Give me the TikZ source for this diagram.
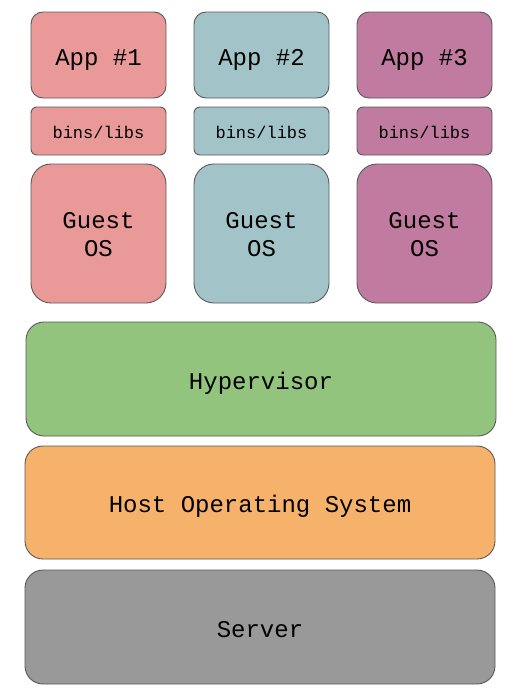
\documentclass[tikz,border=0pt]{standalone}
\usepackage{fontspec}
\setmonofont{Liberation Mono}
\definecolor{cred}{HTML}{EA9999}
\definecolor{cteal}{HTML}{A2C4C9}
\definecolor{cpurp}{HTML}{C27BA0}
\definecolor{cgreen}{HTML}{93C47D}
\definecolor{corange}{HTML}{F6B26B}
\definecolor{cgray}{HTML}{999999}
\definecolor{cborder}{HTML}{595959}
\tikzset{
  blk/.style={draw=cborder, line width=0.9pt, inner sep=0pt, align=center, text=black},
  appbox/.style={blk, rounded corners=12pt, minimum width=135pt, minimum height=86pt, text height=20pt, text depth=0pt, font=\ttfamily\fontsize{24}{28}\selectfont},
  libbox/.style={blk, rounded corners=6pt, minimum width=135pt, minimum height=48pt, text height=15.4pt, text depth=0pt, font=\ttfamily\fontsize{17}{20}\selectfont},
  osbox/.style={blk, rounded corners=20pt, minimum width=135pt, minimum height=139pt, text height=46.4pt, text depth=0pt, font=\ttfamily\fontsize{24}{28.4}\selectfont},
  layer/.style={blk, rounded corners=18pt, minimum width=470pt, minimum height=114pt, text height=20pt, text depth=0pt, font=\ttfamily\fontsize{24}{28}\selectfont},
}
\begin{document}
\begin{tikzpicture}[x=1pt,y=-1pt]
\useasboundingbox (0,0) rectangle (522,696);
\node[appbox, fill=cred]  (app1) at (98.5,55) {App \#1};
\node[appbox, fill=cteal] (app2) at (261.5,55) {App \#2};
\node[appbox, fill=cpurp] (app3) at (424.5,55) {App \#3};
\node[libbox, fill=cred]  (lib1) at (98.5,131) {bins/libs};
\node[libbox, fill=cteal] (lib2) at (261.5,131) {bins/libs};
\node[libbox, fill=cpurp] (lib3) at (424.5,131) {bins/libs};
\node[osbox, fill=cred]  (os1) at (98.5,233.5) {Guest\\OS};
\node[osbox, fill=cteal] (os2) at (261.5,233.5) {Guest\\OS};
\node[osbox, fill=cpurp] (os3) at (424.5,233.5) {Guest\\OS};
\node[layer, fill=cgreen]  (hyp) at (261,379) {Hypervisor};
\node[layer, fill=corange, minimum height=113pt] (host) at (260,502.5) {Host Operating System};
\node[layer, fill=cgray] (srv) at (260,627) {Server};
\end{tikzpicture}
\end{document}
